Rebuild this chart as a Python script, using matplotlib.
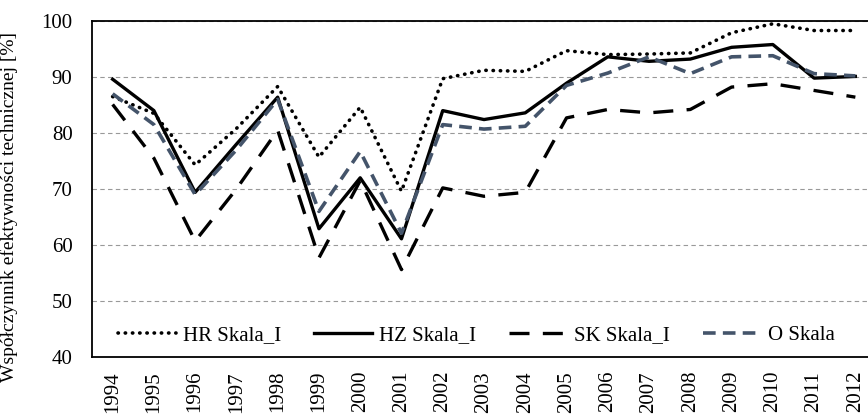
import matplotlib.pyplot as plt

plt.rcParams['font.family'] = ['Liberation Serif', 'DejaVu Serif']

years = [str(y) for y in range(1994, 2013)]

hr_skala = [86.5, 83.5, 74.3, 80.8, 88.3, 75.7, 84.6, 69.6, 89.7, 91.2,
            91.0, 94.7, 94.0, 94.1, 94.3, 97.9, 99.5, 98.3, 98.3]
hz_skala = [89.6, 84.0, 69.4, 78.0, 86.4, 62.9, 72.0, 61.1, 84.0, 82.4,
            83.6, 88.9, 93.6, 92.8, 93.2, 95.3, 95.8, 89.8, 90.1]
sk_skala = [85.1, 75.5, 60.7, 70.0, 80.5, 57.7, 71.5, 55.6, 70.2, 68.7,
            69.4, 82.7, 84.2, 83.6, 84.2, 88.2, 88.8, 87.6, 86.4]
o_skala = [87.0, 81.5, 69.0, 77.0, 86.0, 66.0, 76.7, 62.1, 81.5, 80.7,
           81.2, 88.5, 90.7, 93.6, 90.6, 93.6, 93.8, 90.6, 90.2]

fig = plt.figure(figsize=(8.68, 4.15), dpi=100)
W, H = 868, 415
ax = fig.add_axes([92 / W, 1 - 357 / H, (876 - 92) / W, (357 - 21) / H])

x = list(range(len(years)))
ax.plot(x, hr_skala, color='black', linewidth=2.6, linestyle=(0, (0.1, 1.9)),
        dash_capstyle='round', label='HR Skala_I')
ax.plot(x, hz_skala, color='black', linewidth=2.4, label='HZ Skala_I')
ax.plot(x, sk_skala, color='black', linewidth=2.4, linestyle=(0, (6, 4)),
        label='SK Skala_I')
ax.plot(x, o_skala, color='#44546A', linewidth=2.6, linestyle=(0, (3.5, 2)),
        label='O Skala')

ax.set_xlim(-0.5, len(years) - 0.5)
ax.set_ylim(40, 100)
ax.set_yticks(range(40, 101, 10))
ax.set_xticks(x)
ax.set_xticklabels(years, rotation=90)
ax.tick_params(length=0, labelsize=15)
ax.tick_params(axis='y', pad=14)
ax.tick_params(axis='x', pad=10)
ax.yaxis.grid(True, linestyle=(0, (4, 3)), color='#999999', linewidth=0.8)
ax.set_axisbelow(True)
for s in ax.spines.values():
    s.set_linewidth(1.3)

ax.set_ylabel('Współczynnik efektywności technicznej [%]', fontsize=14)
ax.yaxis.set_label_coords(-0.094, 0.446)

ax.legend(loc='lower center', bbox_to_anchor=(0.49, -0.02), ncol=4,
          frameon=False, fontsize=15, handlelength=2.8, handletextpad=0.3,
          columnspacing=1.6)

fig.savefig('out.png', dpi=100)
